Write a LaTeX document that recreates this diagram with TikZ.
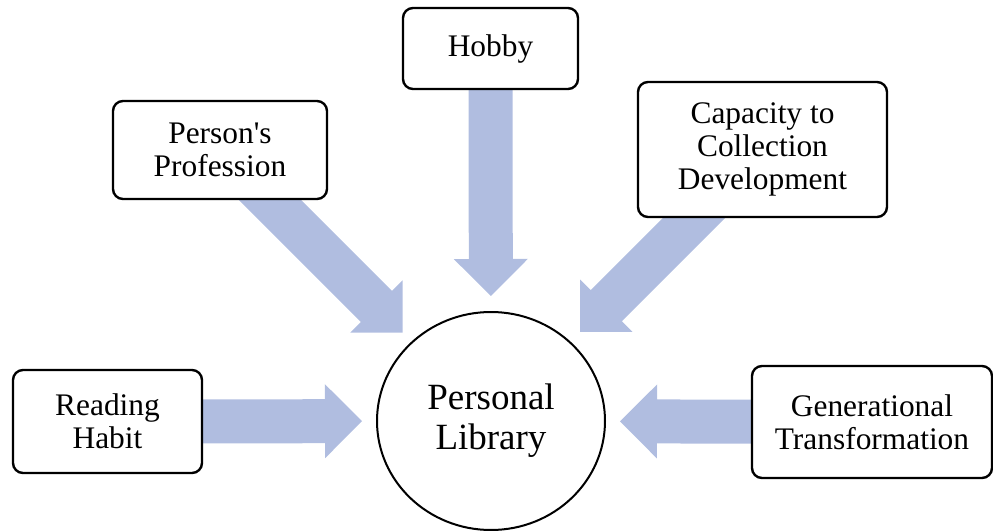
\documentclass[tikz,border=0pt]{standalone}
\usepackage{fontspec}
\setmainfont{Liberation Serif}
\usetikzlibrary{calc,backgrounds,shapes.geometric}

\definecolor{arrowblue}{RGB}{176,189,224}

\tikzset{
	factor/.style={draw, rounded corners=5pt, line width=1.2pt, fill=white,
		align=center, inner sep=0pt, font=\fontsize{15.7pt}{16.5pt}\selectfont},
	hub/.style={draw, ellipse, line width=1pt, fill=white, align=center,
		minimum width=114pt, minimum height=109pt, inner sep=0pt,
		font=\fontsize{18.5pt}{20pt}\selectfont}
}

% block arrow from the centre of node #1 to a tip at distance #2 from the hub
\newcommand{\fatarrow}[2]{
	\coordinate (tip) at ($(library.center)!#2!(#1.center)$);
	\coordinate (neck) at ($(tip)!18.5pt!(#1.center)$);
	\fill[arrowblue] ($(#1.center)!11pt!90:(tip)$) -- ($(neck)!11pt!90:(tip)$)
		-- ($(neck)!18.5pt!90:(tip)$) -- (tip) -- ($(neck)!18.5pt!-90:(tip)$)
		-- ($(neck)!11pt!-90:(tip)$) -- ($(#1.center)!11pt!-90:(tip)$) -- cycle;
}

\begin{document}
\begin{tikzpicture}[x=0.5pt, y=-0.5pt]

	\useasboundingbox (0,0) rectangle (993,531);

	% central node
	\node[hub] (library) at (491,421) {Personal\\Library};

	% factor boxes
	\node[factor, minimum width=87.5pt, minimum height=40.5pt] (hobby) at (490.5,48.5) {Hobby};
	\node[factor, minimum width=107pt, minimum height=49pt] (profession) at (220,150) {Person\textquotesingle s\\Profession};
	\node[factor, minimum width=124.5pt, minimum height=67.5pt] (capacity) at (762.5,149.5) {Capacity to\\Collection\\Development};
	\node[factor, minimum width=94.5pt, minimum height=51.5pt] (reading) at (107.5,421.5) {Reading\\Habit};
	\node[factor, minimum width=120pt, minimum height=56pt] (generation) at (872,422) {Generational\\Transformation};

	% block arrows
	\begin{scope}[on background layer]
		\foreach \src/\dist in {hobby/62.5pt, profession/62.5pt, capacity/63pt, reading/64.5pt, generation/64.5pt}
		{\fatarrow{\src}{\dist}}
	\end{scope}

\end{tikzpicture}
\end{document}
